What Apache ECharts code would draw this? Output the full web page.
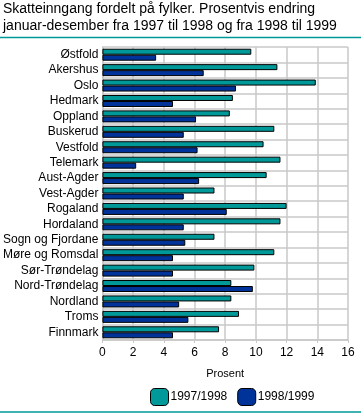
<!DOCTYPE html>
<html><head><meta charset="utf-8">
<script src="https://cdn.jsdelivr.net/npm/echarts@6/dist/echarts.min.js"></script>
<style>html,body{margin:0;padding:0;background:#fff}#c{width:361px;height:413px}</style>
</head><body><div id="c"></div>
<script>
const categories = ["Østfold","Akershus","Oslo","Hedmark","Oppland","Buskerud","Vestfold","Telemark","Aust-Agder","Vest-Agder","Rogaland","Hordaland","Sogn og Fjordane","Møre og Romsdal","Sør-Trøndelag","Nord-Trøndelag","Nordland","Troms","Finnmark"];
const s9798 = [9.7,11.4,13.9,8.5,8.3,11.2,10.5,11.6,10.7,7.3,12.0,11.6,7.3,11.2,9.9,8.4,8.4,8.9,7.6];
const s9899 = [3.5,6.6,8.7,4.6,6.1,5.3,6.2,2.2,6.3,5.3,8.1,5.3,5.4,4.6,4.6,9.8,5.0,5.6,4.6];
const xTicks = [0,2,4,6,8,10,12,14,16];
const seriesNames = ["1997/1998","1998/1999"];
const titleLines = ["Skatteinngang fordelt på fylker. Prosentvis endring","januar-desember fra 1997 til 1998 og fra 1998 til 1999"];

const font = "'Liberation Sans', Arial, sans-serif";
const chart = echarts.init(document.getElementById('c'), null, {renderer:'canvas'});
chart.setOption({
  animation:false,
  textStyle:{fontFamily:font},
  title:{text:titleLines.join('\n'), left:3, top:1, padding:0, textStyle:{fontSize:14, fontWeight:'normal', color:'#000', lineHeight:17, fontFamily:font}},
  graphic:[
    {type:'line', shape:{x1:0,y1:37.5,x2:361,y2:37.5}, style:{stroke:'#009999', lineWidth:1.5}},
    {type:'line', shape:{x1:0,y1:412,x2:361,y2:412}, style:{stroke:'#009999', lineWidth:1.5}}
  ],
  legend:{left:150, top:388, padding:0, itemWidth:18, itemHeight:17, itemGap:10,
    textStyle:{fontSize:12, color:'#000', padding:[0,0,0,-3]},
    data:seriesNames.map(n=>({name:n, itemStyle:{borderColor:'#000', borderWidth:1}}))},
  grid:{left:97, right:13, top:47, bottom:73, containLabel:false},
  xAxis:{type:'value', min:0, max:16, interval:2,
    name:'Prosent', nameLocation:'middle', nameGap:28, nameTextStyle:{fontSize:11, color:'#000'},
    axisLine:{show:true, lineStyle:{color:'#c8c8c8', width:1.5}},
    axisTick:{show:true, length:3, lineStyle:{color:'#c8c8c8'}},
    axisLabel:{fontSize:12, color:'#000', margin:7, formatter:v=>xTicks.includes(v)?String(v):''},
    splitLine:{show:true, lineStyle:{color:'#c8c8c8', width:1.5}}},
  yAxis:{type:'category', data:categories, inverse:true,
    axisLine:{show:true, lineStyle:{color:'#c8c8c8', width:1.5}},
    axisTick:{show:false},
    axisLabel:{fontSize:12, color:'#000', margin:4, interval:0},
    splitLine:{show:true, interval:0, lineStyle:{color:'#c8c8c8', width:1.5}}},
  series:[
    {name:seriesNames[0], type:'bar', data:s9798, barWidth:6, barGap:'0%',
      itemStyle:{color:'#009999', borderColor:'#000', borderWidth:1}},
    {name:seriesNames[1], type:'bar', data:s9899, barWidth:6, barGap:'0%',
      itemStyle:{color:'#003399', borderColor:'#000', borderWidth:1}}
  ]
});
</script></body></html>
